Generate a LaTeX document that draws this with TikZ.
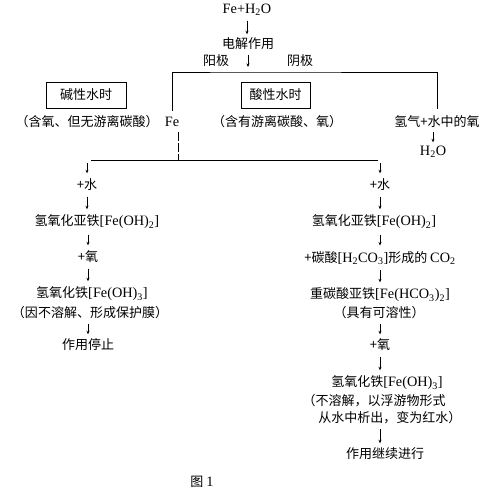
\documentclass[tikz,border=0pt]{standalone}
\usepackage{fontspec}
\setmainfont{Noto Sans CJK SC}
\newfontfamily\lat[Scale=1.1]{Liberation Serif}
\usetikzlibrary{arrows.meta}

\begin{document}
\begin{tikzpicture}[
        x=1pt, y=-1pt,
        font=\fontsize{13}{17}\selectfont,
        txt/.style={inner sep=0.5pt},
        waterbox/.style={draw, line width=0.8pt, minimum height=26pt, inner sep=0pt},
        line/.style={line width=0.8pt},
        arrow/.style={-{Stealth[length=3.5pt,width=3pt]}, line width=0.7pt, shorten <=5pt, shorten >=5pt}
    ]
        \useasboundingbox (0,0) rectangle (485,489);

        % Electrolysis
        \node[txt] (feh) at (247,10) {\lat Fe+H\textsubscript{2}O};
        \node[txt] (jie) at (248,44) {电解作用};
        \node[txt] (yang) at (216,61) {阳极};
        \node[txt] (yin) at (300,61) {阴极};
        \coordinate (brmid) at (247,72);

        % Water boxes
        \node[waterbox, minimum width=80pt] (alk) at (86,95) {碱性水时};
        \node[waterbox, minimum width=69pt] (acid) at (275.5,95) {酸性水时};
        \node[txt] (alknote) at (87,122) {（含氧、但无游离碳酸）};
        \node[txt] (acidnote) at (277,122) {（含有游离碳酸、氧）};

        % Electrodes
        \node[txt] (fe) at (172,122) {\lat Fe};
        \node[txt] (h2gas) at (437,122) {氢气+水中的氧};
        \node[txt] (h2o) at (433,152) {\lat H\textsubscript{2}O};

        % Left branch
        \node[txt] (l1) at (87,185) {+水};
        \node[txt] (l2) at (97,222) {氢氧化亚铁{\lat[Fe(OH)\textsubscript{2}]}};
        \node[txt] (l3) at (88,257) {+氧};
        \node[txt] (l4) at (92,294) {氢氧化铁{\lat[Fe(OH)\textsubscript{3}]}};
        \node[txt] (l5) at (90,313) {（因不溶解、形成保护膜）};
        \node[txt] (l6) at (88,345) {作用停止};

        % Right branch
        \node[txt] (r1) at (380,185) {+水};
        \node[txt] (r2) at (374,222) {氢氧化亚铁{\lat[Fe(OH)\textsubscript{2}]}};
        \node[txt] (r3) at (380,258) {+碳酸{\lat[H\textsubscript{2}CO\textsubscript{3}]}形成的 {\lat CO\textsubscript{2}}};
        \node[txt] (r4) at (380,295) {重碳酸亚铁{\lat[Fe(HCO\textsubscript{3})\textsubscript{2}]}};
        \node[txt] (r5) at (379,313) {（具有可溶性）};
        \node[txt] (r6) at (380,345) {+氧};
        \node[txt] (r7) at (387,383) {氢氧化铁{\lat[Fe(OH)\textsubscript{3}]}};
        \node[txt, align=left] (r8) at (382,409.5) {（不溶解，以浮游物形式\\\hspace{1.2em}从水中析出，变为红水）};
        \node[txt] (r9) at (385,454) {作用继续进行};

        % Caption
        \node[txt] (fig) at (202,482) {图 {\lat 1}};

        % Top arrows and bracket
        \draw[arrow, shorten <=4pt, shorten >=3pt] (feh.south) -- (feh.south |- jie.north);
        \draw[arrow, shorten <=4pt, shorten >=5pt] (jie.south) -- (jie.south |- brmid);
        \draw[line] ([yshift=6pt]fe.north) |- (brmid) -| ([yshift=6pt]h2gas.north);
        \draw[arrow, shorten <=3pt, shorten >=3pt] (h2o.north |- h2gas.south) -- (h2o.north);

        % Split below Fe
        \coordinate (splitl) at (91,160);
        \coordinate (splitr) at (378,160);
        \draw[line] (splitl) -- (splitr);
        \draw[line, dash pattern=on 9pt off 2pt] ([xshift=6pt,yshift=-5pt]fe.south) -- ([xshift=6pt]fe.south |- splitl);
        \draw[arrow, shorten <=3pt] (l1.north |- splitl) -- (l1.north);
        \draw[arrow, shorten <=3pt] (r1.north |- splitr) -- (r1.north);

        % Left arrows
        \draw[arrow] (l1.south) -- (l1.south |- l2.north);
        \draw[arrow] (l3.north |- l2.south) -- (l3.north);
        \draw[arrow] (l3.south) -- (l3.south |- l4.north);
        \draw[arrow, shorten <=4pt, shorten >=4pt] (l6.north |- l5.south) -- (l6.north);

        % Right arrows
        \draw[arrow] (r1.south) -- (r1.south |- r2.north);
        \draw[arrow] (r3.north |- r2.south) -- (r3.north);
        \draw[arrow] (r3.south) -- (r3.south |- r4.north);
        \draw[arrow, shorten <=4pt, shorten >=4pt] (r6.north |- r5.south) -- (r6.north);
        \draw[arrow] (r6.south) -- (r6.south |- r7.north);
        \draw[arrow, shorten <=4pt, shorten >=4pt] (r1.south |- r8.south) -- (r1.south |- r9.north);

    \end{tikzpicture}
\end{document}
